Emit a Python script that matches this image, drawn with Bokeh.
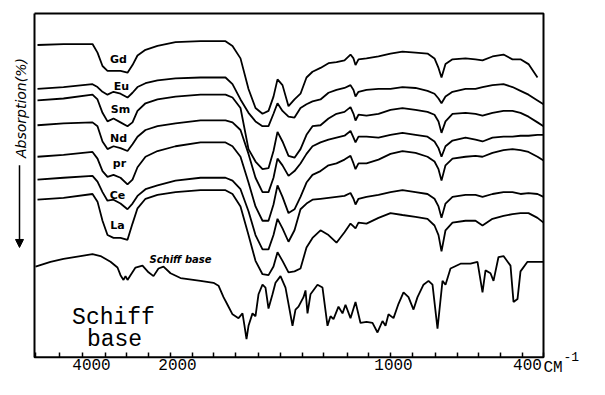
import numpy as np
from bokeh.plotting import figure
from bokeh.models import Range1d, Label, Arrow, NormalHead
from bokeh.core.properties import value
from bokeh.embed import file_html
from bokeh.resources import INLINE

x_complex = [37, 63, 92, 97, 102, 107, 113, 120, 127, 132, 137, 145, 157, 175, 200,
             225, 232, 240, 248, 255, 262, 268, 273, 277, 282, 288, 294, 300, 306, 312,
             320, 328, 336, 344, 350, 353, 355, 358, 366, 378, 390, 402, 415, 427, 434,
             438, 441, 445, 452, 465, 475, 482, 492, 503, 512, 520, 528, 537, 543]

gd = [46, 45, 45, 54, 68, 73, 73, 73, 75, 67, 57, 51, 47, 43, 42,
      42, 47, 60, 92, 112, 118, 115, 100, 82, 88, 110, 103, 97, 80, 74,
      70, 65, 64, 62, 56, 60, 67, 61, 60, 58, 55, 53, 54, 55, 60,
      70, 80, 66, 61, 60, 61, 62, 58, 56, 61, 61, 66, 80, float("nan")]

eu = [92, 90, 87, 90, 95, 98, 95, 97, 101, 96, 90, 86, 83, 81, 80,
      80, 87, 103, 117, 126, 131, 131, 118, 107, 115, 121, 122, 112, 108, 105,
      103, 96, 93, 91, 88, 93, 100, 95, 93, 92, 92, 90, 91, 94, 97,
      102, 107, 100, 95, 92, 92, 90, 88, 87, 90, 94, 98, 104, 108]

sm = [104, 102, 98, 103, 117, 126, 123, 127, 131, 127, 115, 107, 103, 100, 98,
      98, 101, 112, 155, 168, 176, 175, 157, 137, 147, 162, 164, 155, 140, 131,
      130, 123, 118, 116, 111, 118, 125, 119, 120, 118, 114, 112, 114, 116, 119,
      126, 138, 126, 118, 117, 118, 120, 117, 115, 115, 117, 121, 127, 131]

nd = [130, 128, 127, 131, 147, 155, 152, 154, 157, 150, 142, 135, 131, 128, 125,
      125, 127, 135, 160, 185, 200, 200, 185, 165, 172, 183, 178, 170, 160, 152,
      148, 145, 143, 141, 136, 143, 148, 142, 142, 143, 140, 138, 140, 142, 147,
      154, 163, 152, 146, 143, 145, 147, 143, 142, 142, 141, 141, 140, 140]

pr = [163, 161, 158, 165, 178, 184, 182, 185, 192, 187, 174, 163, 157, 152, 148,
      148, 152, 163, 190, 215, 230, 230, 213, 193, 205, 222, 218, 205, 190, 182,
      178, 172, 170, 166, 162, 170, 176, 170, 170, 166, 160, 157, 159, 163, 168,
      176, 188, 172, 165, 163, 162, 163, 159, 156, 155, 156, 158, 163, 167]

ce = [187, 185, 183, 189, 200, 209, 208, 212, 218, 212, 204, 197, 193, 188, 185,
      185, 188, 197, 220, 245, 260, 260, 245, 228, 238, 252, 240, 218, 212, 208,
      207, 206, 205, 204, 201, 207, 213, 207, 205, 203, 200, 198, 200, 202, 207,
      215, 227, 212, 205, 203, 203, 205, 202, 200, 200, 202, 201, 202, 205]

la = [208, 206, 202, 210, 230, 245, 248, 248, 250, 233, 217, 207, 203, 200, 198,
      198, 202, 215, 245, 272, 286, 287, 278, 263, 272, 284, 283, 280, 258, 248,
      240, 245, 253, 242, 233, 236, 238, 232, 233, 227, 222, 224, 226, 228, 235,
      245, 262, 240, 232, 230, 230, 235, 228, 225, 223, 222, 222, 227, 232]

x_schiff = [35, 50, 63, 80, 92, 100, 110, 117, 120, 123, 125, 127, 130, 135, 142,
            148, 153, 158, 163, 170, 180, 200, 213, 218, 223, 227, 232, 238, 242, 244,
            246, 248, 252, 255, 258, 262, 265, 268, 272, 275, 280, 285, 288, 292, 295,
            298, 303, 305, 307, 310, 317, 322, 327, 330, 333, 338, 342, 345, 350, 355,
            360, 366, 372, 377, 382, 385, 388, 393, 398, 403, 408, 413, 417, 423, 428,
            432, 437, 440, 442, 445, 450, 460, 470, 477, 482, 485, 490, 493, 498, 503,
            510, 513, 517, 520, 527, 543]
schiff = [278, 273, 270, 267, 265, 267, 273, 279, 287, 292, 288, 292, 287, 279, 277,
          284, 288, 280, 278, 285, 290, 293, 295, 298, 310, 318, 328, 332, 327, 340,
          354, 340, 327, 330, 307, 297, 300, 322, 307, 295, 288, 300, 317, 340, 323,
          320, 310, 303, 327, 307, 297, 300, 340, 330, 333, 320, 327, 318, 332, 315,
          337, 336, 337, 347, 335, 340, 328, 332, 317, 305, 310, 323, 310, 297, 293,
          297, 343, 313, 293, 297, 280, 275, 275, 273, 305, 282, 285, 293, 268, 267,
          277, 315, 312, 283, 273, 273]

# ---- chart paper: box, tick marks, tick labels ----
box_left, box_right, box_top, box_bottom = 34, 543, 13, 373
tick_marks = [35, 59, 82, 105, 126, 148, 170, 192, 213, 235, 258, 280, 302, 323,
              347, 368, 390, 412, 435, 457, 478, 500, 522, 543]
tick_label_pos = [91, 177, 393, 527]
tick_label_text = ["4000", "2000", "1000", "400"]

curve_names = ["Gd", "Eu", "Sm", "Nd", "pr", "Ce", "La"]
curve_label_x = [118, 121, 120, 118, 119, 117, 117]
curve_label_y = [61, 89, 113, 144, 170, 204, 235]

W, H = 589, 379
K = 0.955  # vertical squeeze so the tick labels fit inside the canvas
p = figure(width=W, height=H, x_range=Range1d(0, W),
           y_range=Range1d(box_top + (H - box_top) / K, box_top - box_top / K),
           output_backend="svg", toolbar_location=None,
           x_axis_location=None, y_axis_location=None,
           min_border_left=0, min_border_right=0, min_border_top=0, min_border_bottom=0)
p.grid.visible = False
p.outline_line_color = None
p.background_fill_color = "white"
p.border_fill_color = "white"

# frame of the chart
p.line([box_left, box_right, box_right, box_left, box_left],
       [box_top, box_top, box_bottom, box_bottom, box_top],
       line_color="black", line_width=2)
# small inward ticks along the wavenumber axis
p.segment(x0=tick_marks, y0=[box_bottom] * len(tick_marks),
          x1=tick_marks, y1=[box_bottom - 5] * len(tick_marks),
          line_color="black", line_width=1.5)
p.text(x=tick_label_pos, y=[375] * len(tick_label_pos), text=tick_label_text,
       text_font=value("Liberation Mono"), text_font_size=value("16px"),
       text_align="center", text_baseline="top", text_color="black")
# unit after the last tick label, same baseline as the tick labels
p.text(x=[543], y=[375], text=["CM"],
       text_font=value("Liberation Mono"), text_font_size=value("16px"),
       text_align="left", text_baseline="top", text_color="black")
p.text(x=[563], y=[367], text=["-1"],
       text_font=value("Liberation Mono"), text_font_size=value("13px"),
       text_align="left", text_baseline="top", text_color="black")

for ys in [gd, eu, sm, nd, pr, ce, la]:
    p.line(x_complex, ys, line_color="black", line_width=1.8)
p.line(x_schiff, schiff, line_color="black", line_width=1.8)

for name, lx, ly in zip(curve_names, curve_label_x, curve_label_y):
    p.add_layout(Label(x=lx, y=ly, text=name, text_align="center", text_baseline="middle",
                       text_font="DejaVu Sans", text_font_style="bold", text_font_size="11px",
                       text_color="black"))

p.add_layout(Label(x=180, y=271, text="Schiff base", text_align="center", text_baseline="middle",
                   text_font="DejaVu Sans", text_font_style="bold italic", text_font_size="10px",
                   text_color="black"))
p.add_layout(Label(x=113, y=332, text="Schiff", text_align="center", text_baseline="alphabetic",
                   text_font="Liberation Mono", text_font_size="23px", text_color="black"))
p.add_layout(Label(x=114, y=355, text="base", text_align="center", text_baseline="alphabetic",
                   text_font="Liberation Mono", text_font_size="23px", text_color="black"))

# vertical legend with arrow
p.add_layout(Label(x=20, y=112, text="Absorption(%)", angle=np.pi / 2, text_align="center",
                   text_baseline="middle", text_font="DejaVu Sans", text_font_style="italic",
                   text_font_size="14px", text_color="black"))
p.add_layout(Arrow(x_start=19, y_start=172, x_end=19, y_end=258, line_width=1.5,
                   line_color="black",
                   end=NormalHead(size=8, fill_color="black", line_color="black")))

open("out.html", "w").write(file_html(p, INLINE))
